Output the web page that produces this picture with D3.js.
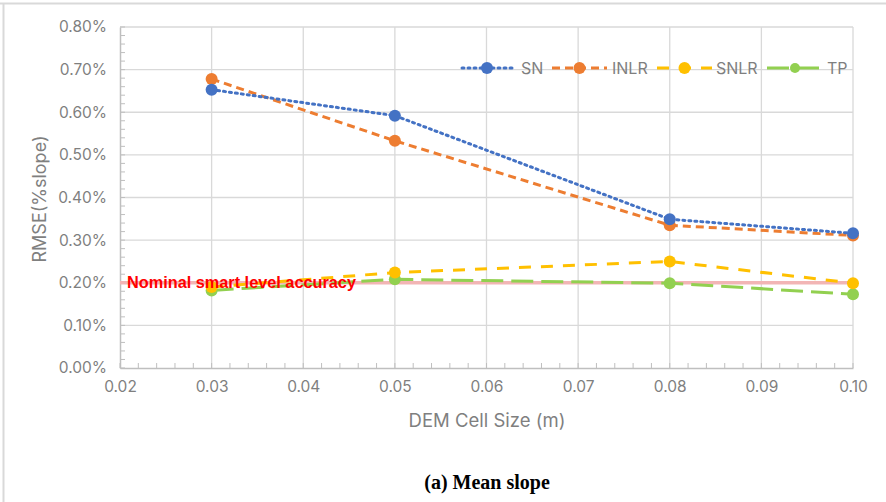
<!DOCTYPE html>
<html><head><meta charset="utf-8">
<script src="https://cdn.jsdelivr.net/npm/d3@7"></script>
<style>body{margin:0;background:#fff}svg{display:block}</style>
</head><body><svg id="c" width="886" height="502"></svg>
<script>
const cellSizes = [0.03, 0.05, 0.08, 0.10];
const SN   = [0.653, 0.592, 0.349, 0.316];
const INLR = [0.678, 0.533, 0.335, 0.311];
const SNLR = [0.190, 0.224, 0.250, 0.199];
const TP   = [0.182, 0.208, 0.199, 0.173];
const nominal = 0.20;
const xTicks = [0.02,0.03,0.04,0.05,0.06,0.07,0.08,0.09,0.10];
const yTicks = [0,0.1,0.2,0.3,0.4,0.5,0.6,0.7,0.8];
const seriesNames = ["SN","INLR","SNLR","TP"];
const seriesData = [SN, INLR, SNLR, TP];
const colors = ["#4472c4","#ed7d31","#ffc000","#92d050"];
const dashes = ["2,4","8,5","12,10","22,8"];

const svg = d3.select("#c");
const L=120, R=853, T=27, B=368;
const x = d3.scaleLinear().domain([0.02,0.10]).range([L,R]);
const y = d3.scaleLinear().domain([0,0.8]).range([B,T]);
const sans = "Inter, 'Open Sans', sans-serif";

// frame
svg.append("line").attr("x1",0).attr("x2",886).attr("y1",3.5).attr("y2",3.5).attr("stroke","#d9d9d9").attr("stroke-width",2);
svg.append("line").attr("x1",3.5).attr("x2",3.5).attr("y1",3).attr("y2",502).attr("stroke","#d9d9d9").attr("stroke-width",2);

// gridlines
svg.append("g").selectAll("line").data(yTicks.slice(1)).join("line")
  .attr("x1",L).attr("x2",R).attr("y1",d=>y(d)).attr("y2",d=>y(d))
  .attr("stroke","#d9d9d9").attr("stroke-width",1.3);
svg.append("g").selectAll("line").data(xTicks.slice(1)).join("line")
  .attr("x1",d=>x(d)).attr("x2",d=>x(d)).attr("y1",T).attr("y2",B)
  .attr("stroke","#d9d9d9").attr("stroke-width",1.3);

// minor ticks (inside)
const yMinor = d3.range(0,0.8001,0.02);
svg.append("g").selectAll("line").data(yMinor).join("line")
  .attr("x1",L).attr("x2",L+5).attr("y1",d=>y(d)).attr("y2",d=>y(d))
  .attr("stroke","#bfbfbf").attr("stroke-width",1);
const xMinor = d3.range(0.02,0.10001,0.002);
svg.append("g").selectAll("line").data(xMinor).join("line")
  .attr("x1",d=>x(d)).attr("x2",d=>x(d)).attr("y1",B).attr("y2",B-5)
  .attr("stroke","#bfbfbf").attr("stroke-width",1);

// axes
const gx = svg.append("g").attr("transform",`translate(0,${B})`)
  .call(d3.axisBottom(x).tickValues(xTicks).tickFormat(d3.format(".2f")).tickSize(0).tickPadding(13));
const gy = svg.append("g").attr("transform",`translate(${L},0)`)
  .call(d3.axisLeft(y).tickValues(yTicks).tickFormat(d=>d.toFixed(2)+"%").tickSize(0).tickPadding(13));
[gx,gy].forEach(g=>{
  g.select(".domain").attr("stroke","#bfbfbf").attr("stroke-width",1.5);
  g.selectAll("text").attr("fill","#7f7f7f").style("font-family",sans).style("font-size","15.5px");
});

// nominal line
svg.append("line").attr("x1",x(0.02)).attr("x2",x(0.10)).attr("y1",y(nominal)).attr("y2",y(nominal))
  .attr("stroke","#f2b5b5").attr("stroke-width",3.5);

// series
const line = d3.line().x((d,i)=>x(cellSizes[i])).y(d=>y(d));
const order = [3,2,1,0];
order.forEach(k=>{
  const g = svg.append("g");
  g.append("path").datum(seriesData[k]).attr("d",line).attr("fill","none")
    .attr("stroke",colors[k]).attr("stroke-width",3).attr("stroke-dasharray",dashes[k])
    .attr("stroke-linecap",k===0?"round":"butt");
  g.selectAll("circle").data(seriesData[k]).join("circle")
    .attr("cx",(d,i)=>x(cellSizes[i])).attr("cy",d=>y(d)).attr("r",6).attr("fill",colors[k]);
});

// nominal label
svg.append("text").attr("x",127).attr("y",288).text("Nominal smart level accuracy")
  .attr("fill","#ff0000").style("font-family","Arial, 'Liberation Sans', sans-serif")
  .style("font-weight","bold").style("font-size","16.3px");

// legend
const leg = [{x0:462,x1:512,tx:521},{x0:552,x1:607,tx:612},{x0:657,x1:712,tx:716},{x0:767,x1:823,tx:827}];
const ly = 68;
leg.forEach((l,k)=>{
  svg.append("line").attr("x1",l.x0).attr("x2",l.x1).attr("y1",ly).attr("y2",ly)
    .attr("stroke",colors[k]).attr("stroke-width",3).attr("stroke-dasharray",dashes[k])
    .attr("stroke-linecap",k===0?"round":"butt");
  svg.append("circle").attr("cx",(l.x0+l.x1)/2).attr("cy",ly).attr("r",k===3?5:6).attr("fill",colors[k]);
  svg.append("text").attr("x",l.tx).attr("y",ly+6).text(seriesNames[k]).attr("fill","#7f7f7f")
    .style("font-family",sans).style("font-size","16px");
});

// axis titles
svg.append("text").attr("x",487).attr("y",427).attr("text-anchor","middle").text("DEM Cell Size (m)")
  .attr("fill","#7f7f7f").style("font-family",sans).style("font-size","18.5px");
svg.append("text").attr("transform","translate(46,199) rotate(-90)").attr("text-anchor","middle").text("RMSE(%slope)")
  .attr("fill","#7f7f7f").style("font-family",sans).style("font-size","18px");

// caption
svg.append("text").attr("x",487).attr("y",489).attr("text-anchor","middle").text("(a) Mean slope")
  .attr("fill","#000").style("font-family","'Liberation Serif', 'Times New Roman', serif")
  .style("font-weight","bold").style("font-size","20px");
</script></body></html>
